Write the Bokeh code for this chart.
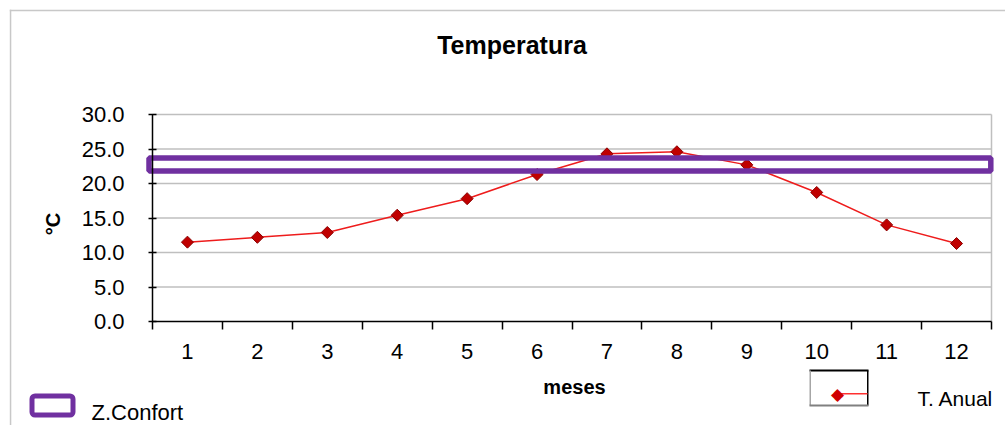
import math
from bokeh.plotting import figure
from bokeh.models import (Range1d, FixedTicker, Label, BoxAnnotation,
                          NumeralTickFormatter, LinearAxis)
from bokeh.embed import file_html
from bokeh.resources import INLINE

# ---------------- data ----------------
months = list(range(1, 13))
month_labels = [str(m) for m in months]
t_anual = [11.5, 12.2, 12.9, 15.4, 17.8, 21.3, 24.3, 24.6, 22.7, 18.7, 14.0, 11.3]
comfort_low = 21.8
comfort_high = 23.7
y_ticks = [0, 5, 10, 15, 20, 25, 30]
title_text = "Temperatura"
x_title = "meses"
y_title = "°C"
legend_comfort = "Z.Confort"
legend_temp = "T. Anual"

FONT = "Liberation Sans"
PURPLE = "#7030a0"
W, H = 1005, 425

# ---------------- geometry helpers (canvas px -> data) ----------------
PX_PER_X = 839.0 / 12.0      # px per month
PX_PER_Y = 207.0 / 30.0      # px per degree


def px2x(px):
    return 0.5 + (px - 152.0) / PX_PER_X


def py2y(py):
    return (321.0 - py) / PX_PER_Y


p = figure(width=W, height=H,
           x_range=Range1d(px2x(0), px2x(W)), y_range=Range1d(py2y(H), py2y(0)),
           output_backend="svg", toolbar_location=None, title=None,
           x_axis_location=None, y_axis_location=None, min_border=0)
p.background_fill_color = "white"
p.border_fill_color = "white"
p.outline_line_color = None
p.grid.visible = False

x_lo = months[0] - 0.5
x_hi = months[-1] + 0.5

# x axis: labels at month centres, tick marks at boundaries
xaxis = LinearAxis(fixed_location=0, bounds=(x_lo, x_hi))
xaxis.ticker = FixedTicker(ticks=months, minor_ticks=[m - 0.5 for m in months] + [x_hi])
xaxis.major_label_overrides = {m: lab for m, lab in zip(months, month_labels)}
xaxis.major_tick_line_color = None
xaxis.major_tick_out = 0
xaxis.major_tick_in = 0
xaxis.minor_tick_line_color = "black"
xaxis.minor_tick_line_width = 1.5
xaxis.minor_tick_out = 8
xaxis.minor_tick_in = 0
xaxis.axis_line_color = "black"
xaxis.axis_line_width = 1.5
xaxis.major_label_text_font = FONT
xaxis.major_label_text_font_size = "22px"
xaxis.major_label_text_color = "black"
xaxis.major_label_standoff = 14
p.add_layout(xaxis, "below")

# y axis
yaxis = LinearAxis(fixed_location=x_lo, bounds=(y_ticks[0], y_ticks[-1]))
yaxis.ticker = FixedTicker(ticks=y_ticks)
yaxis.formatter = NumeralTickFormatter(format="0.0")
yaxis.axis_line_color = "black"
yaxis.axis_line_width = 1.5
yaxis.major_tick_in = 4
yaxis.major_tick_out = 4
yaxis.major_tick_line_width = 1.5
yaxis.major_tick_line_color = "black"
yaxis.minor_tick_line_color = None
yaxis.major_label_text_font = FONT
yaxis.major_label_text_font_size = "22px"
yaxis.major_label_text_color = "black"
yaxis.major_label_standoff = 24
p.add_layout(yaxis, "left")

# gridlines and right border of the plot area
gy = y_ticks[1:]
p.segment(x0=[x_lo] * len(gy), x1=[x_hi] * len(gy), y0=gy, y1=gy,
          line_color="#bfbfbf", line_width=1.5)
p.segment(x0=[x_hi], x1=[x_hi], y0=[y_ticks[0]], y1=[y_ticks[-1]],
          line_color="#bfbfbf", line_width=1.5)

# series
p.line(months, t_anual, line_color="#ee1c1c", line_width=1.5)
p.scatter(months, t_anual, marker="square", angle=math.pi / 4, size=8.5,
          fill_color="#c00000", line_color="#8b0000", line_width=1)
p.quad(left=[x_lo - 0.05], right=[x_hi - 0.01],
       bottom=[comfort_low], top=[comfort_high],
       fill_color=None, line_color=PURPLE, line_width=5.5)


def box(l, r, t, b, color, **kw):
    p.add_layout(BoxAnnotation(left=px2x(l), right=px2x(r), top=py2y(t), bottom=py2y(b),
                               fill_color=color, fill_alpha=1.0, line_color=None, **kw))


# chart border (left & top)
box(9.3, 10.8, 9.3, 440, "#c8c8c8")
box(9.3, 1020, 9.3, 10.8, "#c8c8c8")

# texts
p.add_layout(Label(x=px2x(511.5), y=py2y(44.5), text=title_text, text_align="center",
                   text_baseline="middle", text_font=FONT, text_font_size="25px",
                   text_font_style="bold", text_color="black"))
p.add_layout(Label(x=px2x(574), y=py2y(386.4), text=x_title, text_align="center",
                   text_baseline="middle", text_font=FONT, text_font_size="20px",
                   text_font_style="bold", text_color="black"))
p.add_layout(Label(x=px2x(52.5), y=py2y(223.5), text=y_title, text_align="center",
                   text_baseline="middle", angle=math.pi / 2, text_font=FONT,
                   text_font_size="20px", text_font_style="bold", text_color="black"))

# legend: comfort zone
p.add_layout(BoxAnnotation(left=px2x(31.5), right=px2x(72.5), top=py2y(395.5), bottom=py2y(414.5),
                           fill_alpha=0, line_color=PURPLE, line_alpha=1.0, line_width=5,
                           border_radius=3))
p.add_layout(Label(x=px2x(91), y=py2y(411.5), text=legend_comfort, text_align="left",
                   text_baseline="middle", text_font=FONT, text_font_size="22px",
                   text_color="black"))

# legend: temperature
box(809, 868, 369, 371, "black")
box(866.5, 868, 370, 405, "black")
box(809, 810.5, 370, 405, "#a6a6a6")
box(809, 868, 404, 406, "#808080")
box(840, 867, 392.5, 394, "#ff3030")
p.add_layout(Label(x=px2x(837), y=py2y(393.5), text="◆", text_align="center",
                   text_baseline="middle", text_font="DejaVu Sans", text_font_size="17px",
                   text_color="#d00000"))
p.add_layout(Label(x=px2x(917), y=py2y(397.5), text=legend_temp, text_align="left",
                   text_baseline="middle", text_font=FONT, text_font_size="21px",
                   text_color="black"))

open("out.html", "w").write(file_html(p, INLINE))
